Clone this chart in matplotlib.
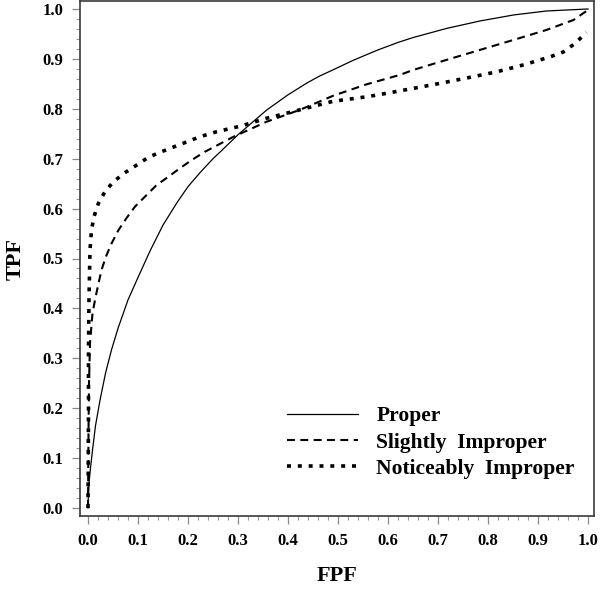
import matplotlib
matplotlib.use("Agg")
import matplotlib.pyplot as plt
from matplotlib.ticker import MultipleLocator, FormatStrFormatter

# Data
proper_fpf = [0.0, 0.0005, 0.002, 0.005, 0.009, 0.015, 0.024, 0.035, 0.047, 0.06,
              0.08, 0.10, 0.124, 0.15, 0.178, 0.20, 0.224, 0.25, 0.268, 0.30,
              0.33, 0.358, 0.40, 0.44, 0.464, 0.49, 0.53, 0.58, 0.62, 0.651,
              0.717, 0.784, 0.851, 0.917, 1.0]
proper_tpf = [0.0, 0.02, 0.05, 0.08, 0.116, 0.165, 0.216, 0.27, 0.317, 0.36,
              0.417, 0.462, 0.515, 0.567, 0.612, 0.644, 0.672, 0.70, 0.717, 0.748,
              0.774, 0.798, 0.828, 0.853, 0.866, 0.878, 0.897, 0.918, 0.933, 0.943,
              0.961, 0.976, 0.988, 0.996, 1.0]

slight_fpf = [0.0, 0.001, 0.002, 0.004, 0.009, 0.014, 0.021, 0.027, 0.036, 0.047,
              0.061, 0.077, 0.094, 0.114, 0.137, 0.161, 0.184, 0.207, 0.234, 0.291,
              0.357, 0.424, 0.49, 0.557, 0.624, 0.651, 0.717, 0.784, 0.851, 0.917,
              0.971, 1.0]
slight_tpf = [0.0, 0.15, 0.25, 0.33, 0.39, 0.417, 0.45, 0.477, 0.504, 0.53,
              0.557, 0.581, 0.604, 0.624, 0.647, 0.664, 0.681, 0.697, 0.714, 0.744,
              0.774, 0.798, 0.826, 0.849, 0.868, 0.878, 0.898, 0.918, 0.938, 0.958,
              0.978, 0.998]

notice_fpf = [0.0, 0.001, 0.001, 0.002, 0.004, 0.007, 0.012, 0.021, 0.034, 0.051,
              0.074, 0.097, 0.121, 0.147, 0.224, 0.257, 0.304, 0.357, 0.424, 0.49,
              0.557, 0.597, 0.651, 0.704, 0.764, 0.817, 0.871, 0.924, 0.951, 0.974,
              0.997]
notice_tpf = [0.0, 0.2, 0.317, 0.42, 0.517, 0.557, 0.584, 0.611, 0.634, 0.654,
              0.672, 0.687, 0.703, 0.714, 0.744, 0.754, 0.765, 0.781, 0.798, 0.815,
              0.824, 0.831, 0.841, 0.851, 0.863, 0.874, 0.888, 0.904, 0.914, 0.931,
              0.953]

series_labels = ["Proper", "Slightly  Improper", "Noticeably  Improper"]
tick_values = [0.0, 0.1, 0.2, 0.3, 0.4, 0.5, 0.6, 0.7, 0.8, 0.9, 1.0]

plt.rcParams['font.family'] = ['Liberation Serif', 'DejaVu Serif']
plt.rcParams['font.weight'] = 'bold'

fig = plt.figure(figsize=(6.0, 5.9), dpi=100)
ax = fig.add_axes([80/600, 1 - 516/590, (594 - 80)/600, (516 - 1)/590])

ax.plot(proper_fpf, proper_tpf, color='black', lw=0.9, ls='-', label=series_labels[0])
ax.plot(slight_fpf, slight_tpf, color='black', lw=1.5, ls=(0, (3.8, 2.6)),
        dash_capstyle='butt', label=series_labels[1])
ax.plot(notice_fpf, notice_tpf, color='black', lw=2.6, ls=(0, (1.1, 1.9)),
        dash_capstyle='butt', label=series_labels[2])

ax.set_xlim(-0.016, 1.012)
ax.set_ylim(-0.016, 1.016)
ax.set_xticks(tick_values)
ax.set_yticks(tick_values)
ax.xaxis.set_major_formatter(FormatStrFormatter('%.1f'))
ax.yaxis.set_major_formatter(FormatStrFormatter('%.1f'))
ax.xaxis.set_minor_locator(MultipleLocator(0.02))
ax.yaxis.set_minor_locator(MultipleLocator(0.02))

ax.tick_params(which='major', direction='out', length=6, width=0.9, color='#8a8a8a',
               labelsize=12, pad=6)
ax.tick_params(which='minor', direction='out', length=3, width=0.8, color='#9a9a9a')
for lab in ax.get_xticklabels() + ax.get_yticklabels():
    lab.set_fontweight('bold')

for s in ax.spines.values():
    s.set_color('#3a3a3a')
    s.set_linewidth(1.2)

ax.set_xlabel('FPF', fontsize=16, fontweight='bold')
ax.set_ylabel('TPF', fontsize=16, fontweight='bold')
ax.xaxis.set_label_coords(0.5, -0.098)
ax.yaxis.set_label_coords(-0.105, 0.5)

leg = ax.legend(loc='lower right', bbox_to_anchor=(1.0, 0.035), frameon=False,
                handlelength=3.3, handletextpad=0.85, labelspacing=0.28,
                prop={'weight': 'bold', 'size': 15.5})

fig.savefig('out.png', dpi=100)
